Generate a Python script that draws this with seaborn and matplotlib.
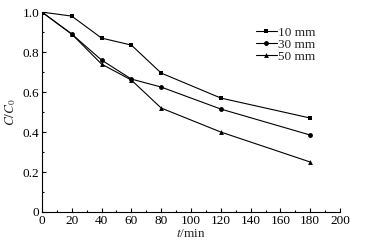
import matplotlib
matplotlib.use("Agg")
import matplotlib.pyplot as plt
import seaborn as sns
import pandas as pd
from matplotlib.ticker import MultipleLocator, FixedFormatter, FixedLocator

# time points (min) and C/C0 values per particle size
t = [0, 20, 40, 60, 80, 120, 180]
c_10mm = [1.0, 0.98, 0.87, 0.835, 0.695, 0.57, 0.47]
c_30mm = [1.0, 0.89, 0.76, 0.665, 0.625, 0.515, 0.385]
c_50mm = [1.0, 0.89, 0.74, 0.66, 0.52, 0.40, 0.25]
labels = ["10 mm", "30 mm", "50 mm"]

df = pd.DataFrame({
    "t": t * 3,
    "c": c_10mm + c_30mm + c_50mm,
    "size": [labels[0]] * 7 + [labels[1]] * 7 + [labels[2]] * 7,
})

sns.set_style("ticks")
plt.rcParams["font.family"] = ["Liberation Serif", "DejaVu Serif"]
plt.rcParams["mathtext.fontset"] = "stix"

fig = plt.figure(figsize=(3.68, 2.42), dpi=100)
ax = fig.add_axes([0.114, 0.124, 0.810, 0.826])

sns.lineplot(data=df, x="t", y="c", hue="size", style="size",
             palette=["black"] * 3, markers=["s", "o", "^"], dashes=False,
             markersize=3.5, linewidth=0.8, markeredgewidth=0, ax=ax)

ax.set_xlim(0, 200)
ax.set_ylim(0, 1.0)
ax.xaxis.set_major_locator(MultipleLocator(20))
ax.xaxis.set_minor_locator(MultipleLocator(10))
ax.yaxis.set_major_locator(FixedLocator([0, 0.2, 0.4, 0.6, 0.8, 1.0]))
ax.yaxis.set_major_formatter(FixedFormatter(["0", "0.2", "0.4", "0.6", "0.8", "1.0"]))
ax.yaxis.set_minor_locator(MultipleLocator(0.1))
ax.tick_params(which="both", direction="in", labelsize=9.5, width=0.8, colors="black")
ax.tick_params(which="major", length=3)
ax.tick_params(which="minor", length=1.5)
ax.tick_params(axis="x", pad=2)
ax.tick_params(axis="y", pad=2)
for side in ["top", "right"]:
    ax.spines[side].set_visible(False)
for side in ["left", "bottom"]:
    ax.spines[side].set_linewidth(0.8)
    ax.spines[side].set_color("black")

ax.set_xlabel("$\\mathit{t}$/min", fontsize=9.5, labelpad=1)
ax.set_ylabel("$\\mathit{C}/\\mathit{C}_0$", fontsize=9.5, labelpad=3)

ax.legend(title=None, loc="upper left", bbox_to_anchor=(0.70, 0.955), frameon=False,
          fontsize=9.5, handlelength=1.6, handletextpad=0.1, labelspacing=0.0,
          borderaxespad=0)

fig.savefig("out.png", dpi=100)
